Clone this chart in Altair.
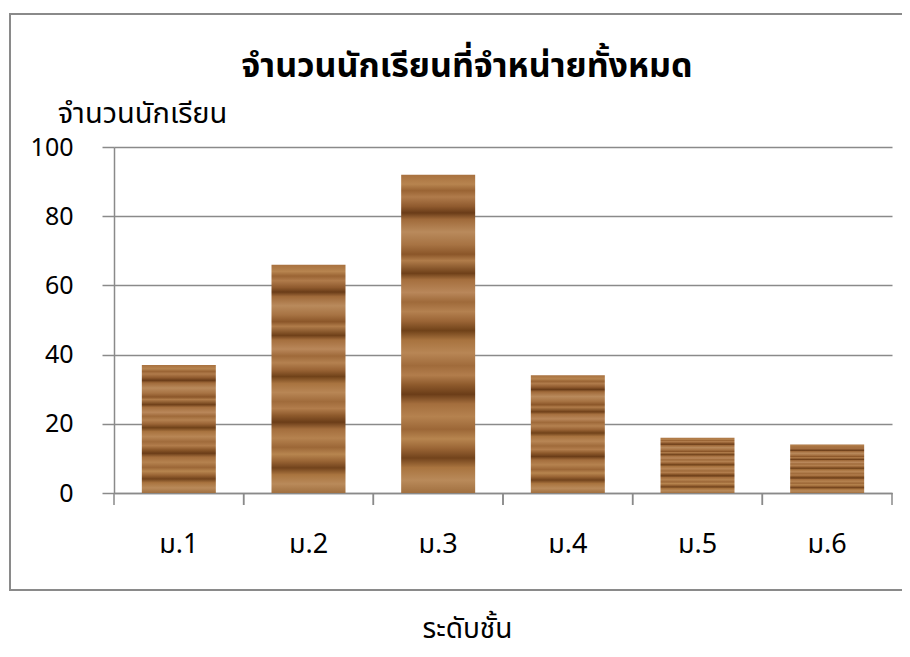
import altair as alt
import pandas as pd

categories = ["ม.1", "ม.2", "ม.3", "ม.4", "ม.5", "ม.6"]
values = [37, 66, 92, 34, 16, 14]
y_ticks = [0, 20, 40, 60, 80, 100]

df = pd.DataFrame({"level": categories, "count": values})

W, H = 778, 346
FONT = "Noto Sans Thai, Tahoma, DejaVu Sans, sans-serif"
GRID = "#8a8a8a"

wood_stops = [
    (0.00, "#a8713f"), (0.03, "#b7844f"), (0.05, "#9a6434"), (0.07, "#b07b4b"),
    (0.10, "#8f5a2e"), (0.12, "#6a3c18"), (0.14, "#a06a3a"), (0.18, "#b98a5c"),
    (0.22, "#a77343"), (0.25, "#8b5629"), (0.27, "#b07c4a"), (0.31, "#6f4019"),
    (0.33, "#a56f3e"), (0.37, "#b9875a"), (0.40, "#9f6a3a"), (0.43, "#b48150"),
    (0.46, "#9b6536"), (0.49, "#704219"), (0.52, "#a8733f"), (0.56, "#b88655"),
    (0.60, "#a06b3b"), (0.63, "#b27d4c"), (0.66, "#8e5a2c"), (0.69, "#6b3d18"),
    (0.72, "#a46e3d"), (0.76, "#b5824f"), (0.80, "#9c6737"), (0.83, "#b7854f"),
    (0.86, "#9a6535"), (0.89, "#72431c"), (0.92, "#a9743f"), (0.96, "#b98a5a"),
    (1.00, "#a17040"),
]
wood = alt.LinearGradient(
    gradient="linear", x1=0, y1=0, x2=0, y2=1,
    stops=[alt.GradientStop(offset=o, color=c) for o, c in wood_stops],
)

xscale = alt.Scale(domain=categories, paddingInner=0, paddingOuter=0)
yscale = alt.Scale(domain=[0, 100])

base = alt.Chart(df)

bars = base.mark_bar(size=74, color=wood).encode(
    x=alt.X(
        "level:N", scale=xscale, sort=categories,
        axis=alt.Axis(
            title="ระดับชั้น", ticks=False, tickSize=0, domain=True,
            domainColor=GRID, domainWidth=1.5, labelAngle=0, labelFontSize=27,
            labelPadding=38, labelFont=FONT, labelColor="black",
            titleFont=FONT, titleFontSize=28, titleFontWeight="normal",
            titleX=353, titleY=136, titleBaseline="middle", titleAlign="center",
            titleColor="black", grid=False,
        ),
    ),
    y=alt.Y(
        "count:Q", scale=yscale,
        axis=alt.Axis(
            values=y_ticks, title="จำนวนนักเรียน", tickSize=12, tickColor=GRID,
            tickWidth=1.5, domainColor=GRID, domainWidth=1.5, grid=True,
            gridColor=GRID, gridWidth=1.5, labelFontSize=25, labelFont=FONT,
            labelColor="black", labelPadding=29, titleAngle=0, titleX=28,
            titleY=-34, titleAlign="center", titleBaseline="middle",
            titleFont=FONT, titleFontSize=29, titleFontWeight="normal",
            titleColor="black",
        ),
    ),
)

tick_left = base.mark_rule(color=GRID, strokeWidth=1.5).encode(
    x=alt.X("level:N", bandPosition=0, scale=xscale, sort=categories),
    y=alt.value(H), y2=alt.value(H + 12),
)
tick_right = base.mark_rule(color=GRID, strokeWidth=1.5).encode(
    x=alt.X("level:N", bandPosition=1, scale=xscale, sort=categories),
    y=alt.value(H), y2=alt.value(H + 12),
)

frame = alt.Chart(pd.DataFrame({"k": [0]})).mark_rect(
    fillOpacity=0, stroke=GRID, strokeWidth=2
).encode(
    x=alt.value(-104), x2=alt.value(800), y=alt.value(-133), y2=alt.value(443)
)

chart = alt.layer(bars, tick_left, tick_right, frame).properties(
    width=W, height=H,
    title=alt.Title(
        "จำนวนนักเรียนที่จำหน่ายทั้งหมด", fontSize=34, fontWeight="bold",
        font=FONT, anchor="middle", dx=-36, offset=-105, color="black",
        baseline="bottom",
    ),
    autosize=alt.AutoSizeParams(type="none"),
    padding={"left": 106, "top": 139, "right": 10, "bottom": 163},
).configure_view(stroke=None)

chart.save("out.html", embed_options={"renderer": "svg", "actions": False})
